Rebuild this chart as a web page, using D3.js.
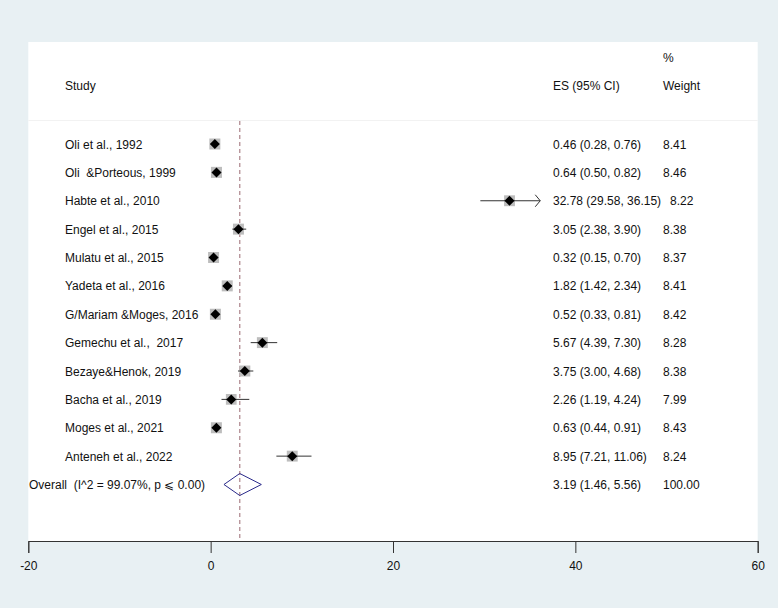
<!DOCTYPE html>
<html>
<head>
<meta charset="utf-8">
<script src="https://cdn.jsdelivr.net/npm/d3@7"></script>
<style>
  body { margin: 0; background: #e8f0f3; }
  text { font-family: "Liberation Sans", Arial, sans-serif; font-size: 12px; fill: #111; white-space: pre; }
</style>
</head>
<body>
<div id="chart"></div>
<script>
// study data
const studies = ['Oli et al., 1992', 'Oli  &Porteous, 1999', 'Habte et al., 2010', 'Engel et al., 2015',
  'Mulatu et al., 2015', 'Yadeta et al., 2016', 'G/Mariam &Moges, 2016', 'Gemechu et al.,  2017',
  'Bezaye&Henok, 2019', 'Bacha et al., 2019', 'Moges et al., 2021', 'Anteneh et al., 2022']
const es = [0.46, 0.64, 32.78, 3.05, 0.32, 1.82, 0.52, 5.67, 3.75, 2.26, 0.63, 8.95]
const lo = [0.28, 0.50, 29.58, 2.38, 0.15, 1.42, 0.33, 4.39, 3.00, 1.19, 0.44, 7.21]
const hi = [0.76, 0.82, 36.15, 3.90, 0.70, 2.34, 0.81, 7.30, 4.68, 4.24, 0.91, 11.06]
const weights = [8.41, 8.46, 8.22, 8.38, 8.37, 8.41, 8.42, 8.28, 8.38, 7.99, 8.43, 8.24]
const esText = ['0.46 (0.28, 0.76)', '0.64 (0.50, 0.82)', '32.78 (29.58, 36.15)', '3.05 (2.38, 3.90)',
  '0.32 (0.15, 0.70)', '1.82 (1.42, 2.34)', '0.52 (0.33, 0.81)', '5.67 (4.39, 7.30)',
  '3.75 (3.00, 4.68)', '2.26 (1.19, 4.24)', '0.63 (0.44, 0.91)', '8.95 (7.21, 11.06)']
const overall = { label: 'Overall  (I^2 = 99.07%, p \u2A7D 0.00)', es: 3.19, lo: 1.46, hi: 5.56, text: '3.19 (1.46, 5.56)', weight: '100.00' }
const xTicks = [-20, 0, 20, 40, 60]

const width = 778, height = 608
const svg = d3.select('#chart').append('svg').attr('width', width).attr('height', height)

const plotLeft = 28.3, plotRight = 757.7
const x = d3.scaleLinear().domain([-20, 60]).range([plotLeft, plotRight])
// rows: 12 studies + overall
const y = d3.scaleLinear().domain([0, 12]).range([144, 484.5])
const axisY = 541

// white plot area
svg.append('rect').attr('x', plotLeft).attr('y', 42)
  .attr('width', plotRight - plotLeft).attr('height', axisY - 42).attr('fill', 'white')

// faint separator under the header
svg.append('line').attr('x1', plotLeft).attr('x2', plotRight).attr('y1', 120.5).attr('y2', 120.5)
  .attr('stroke', '#f2f2f2').attr('stroke-width', 1)

// headers
const esX = 553, wX = 663
svg.append('text').attr('x', wX).attr('y', 62).text('%')
svg.append('text').attr('x', 65).attr('y', 90).text('Study')
svg.append('text').attr('x', esX).attr('y', 90).text('ES (95% CI)')
svg.append('text').attr('x', wX).attr('y', 90).text('Weight')

// overall line (dashed)
svg.append('line').attr('x1', x(overall.es)).attr('x2', x(overall.es))
  .attr('y1', 121).attr('y2', axisY)
  .attr('stroke', '#b8959b').attr('stroke-width', 1.4).attr('stroke-dasharray', '4,3')

const boxK = 11 / Math.sqrt(8.41)
const rows = svg.append('g')
studies.forEach((s, i) => {
  const cy = y(i)
  const side = boxK * Math.sqrt(weights[i])
  const g = rows.append('g')
  g.append('text').attr('x', 65).attr('y', cy + 4.5).text(s)
  const esT = g.append('text').attr('x', esX).attr('y', cy + 4.5).text(esText[i])
  // weight column gets pushed right when the ci text is long
  const esEnd = esX + esT.node().getComputedTextLength()
  g.append('text').attr('x', Math.max(wX, esEnd + 9)).attr('y', cy + 4.5).text(weights[i].toFixed(2))
  g.append('rect').attr('x', x(es[i]) - side / 2).attr('y', cy - side / 2)
    .attr('width', side).attr('height', side).attr('fill', '#bdbdbd')
  g.append('line').attr('x1', x(lo[i])).attr('x2', x(hi[i])).attr('y1', cy).attr('y2', cy)
    .attr('stroke', '#333').attr('stroke-width', 1)
  if (hi[i] > 30) {
    // arrow on truncated ci
    const ax = x(hi[i])
    g.append('path').attr('d', `M${ax - 5},${cy - 6} L${ax},${cy} L${ax - 5},${cy + 6}`)
      .attr('fill', 'none').attr('stroke', '#333').attr('stroke-width', 1)
  }
  const cx = x(es[i])
  g.append('path').attr('d', `M${cx - 5},${cy} L${cx},${cy - 5} L${cx + 5},${cy} L${cx},${cy + 5} Z`)
    .attr('fill', '#000')
})

// overall row
const oy = y(12)
svg.append('text').attr('x', 29).attr('y', oy + 4.5).text(overall.label)
svg.append('text').attr('x', esX).attr('y', oy + 4.5).text(overall.text)
svg.append('text').attr('x', wX).attr('y', oy + 4.5).text(overall.weight)
svg.append('path')
  .attr('d', `M${x(overall.lo)},${oy} L${x(overall.es)},${oy - 11} L${x(overall.hi)},${oy} L${x(overall.es)},${oy + 11} Z`)
  .attr('fill', 'none').attr('stroke', '#2a2a8a').attr('stroke-width', 1)

// x axis
const xAxis = d3.axisBottom(x).tickValues(xTicks).tickSize(12).tickPadding(8).tickFormat(d => String(d))
const xAxisG = svg.append('g').attr('transform', `translate(0, ${axisY})`).call(xAxis)
xAxisG.select('.domain').attr('stroke', '#333')
xAxisG.selectAll('.tick line').attr('stroke', '#333')
xAxisG.selectAll('.tick text').style('font-size', '12px').attr('fill', '#111')
  .style('font-family', '"Liberation Sans", Arial, sans-serif')
</script>
</body>
</html>
